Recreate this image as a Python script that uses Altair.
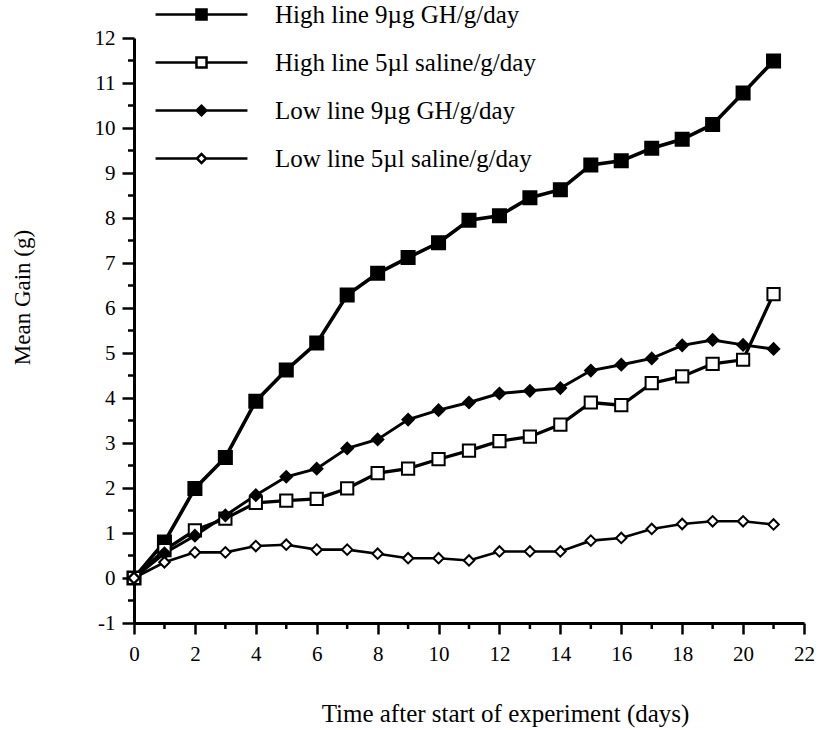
import altair as alt
import pandas as pd

# ---------------- data ----------------
days = list(range(22))
series_names = [
    "High line 9µg GH/g/day",
    "High line 5µl saline/g/day",
    "Low line 9µg GH/g/day",
    "Low line 5µl saline/g/day",
]
high_gh = [0, 0.80, 1.99, 2.68, 3.93, 4.62, 5.22, 6.29, 6.77, 7.12, 7.45, 7.95,
           8.05, 8.45, 8.63, 9.18, 9.27, 9.55, 9.75, 10.08, 10.78, 11.49]
high_saline = [0, 0.62, 1.06, 1.32, 1.67, 1.72, 1.76, 1.99, 2.33, 2.43, 2.64, 2.83,
               3.04, 3.14, 3.41, 3.90, 3.84, 4.33, 4.48, 4.76, 4.85, 6.31]
low_gh = [0, 0.55, 0.94, 1.39, 1.84, 2.25, 2.43, 2.88, 3.08, 3.52, 3.73, 3.90,
          4.10, 4.16, 4.22, 4.61, 4.74, 4.88, 5.17, 5.29, 5.18, 5.09]
low_saline = [0, 0.35, 0.57, 0.57, 0.71, 0.74, 0.63, 0.63, 0.54, 0.44, 0.44, 0.39,
              0.59, 0.59, 0.59, 0.83, 0.89, 1.09, 1.20, 1.26, 1.26, 1.19]

x_major_ticks = list(range(0, 23, 2))
x_minor_ticks = list(range(1, 22, 2))
y_major_ticks = list(range(-1, 13))
y_minor_ticks = [v + 0.5 for v in range(-1, 12)]

rows = []
for name, vals in zip(series_names, [high_gh, high_saline, low_gh, low_saline]):
    for d, v in zip(days, vals):
        rows.append({"day": d, "gain": v, "series": name})
df = pd.DataFrame(rows)

FONT = "Liberation Serif"
PLOT_W, PLOT_H = 670, 585

x_scale = alt.Scale(domain=[0, 22], nice=False, zero=False)
y_scale = alt.Scale(domain=[-1, 12], nice=False, zero=False)

common_axis = dict(
    grid=False, domainColor="black", tickColor="black", labelColor="black",
    titleColor="black", labelFont=FONT, titleFont=FONT, titleFontWeight="normal",
    labelFontWeight="normal", labelFlush=False, labelOverlap=False,
    tickWidth=2.5, domainWidth=3, tickCount=200,
)

x_axis = alt.Axis(
    orient="bottom", values=x_major_ticks, tickSize=11,
    labelExpr="'' + datum.value",
    labelFontSize=21, labelPadding=9,
    title="Time after start of experiment (days)", titleFontSize=25,
    titleX=371, titleY=90, titleAlign="center", titleBaseline="middle", titleAngle=0,
    **common_axis,
)
y_axis = alt.Axis(
    orient="left", values=y_major_ticks, tickSize=12,
    labelExpr="'' + datum.value",
    labelFontSize=21, labelPadding=7,
    title="Mean Gain (g)", titleFontSize=23, titleAngle=-90,
    titleX=-112, titleY=259, titleAlign="center", titleBaseline="middle",
    **common_axis,
)

# legend symbols drawn with strokes only (units: 1 = 12 px with symbolSize 576)
L = 3.83
def rings_square(rs):
    return "".join(f"M{-r},{-r}H{r}V{r}H{-r}Z" for r in rs)
def rings_diamond(rs):
    return "".join(f"M{-r},0L0,{-r}L{r},0L0,{r}Z" for r in rs)
sq_f = f"M{-L},0H{L}" + rings_square([0.42, 0.25, 0.08])
sq_o = f"M{-L},0H-0.42M0.42,0H{L}" + rings_square([0.42])
di_f = f"M{-L},0H{L}" + rings_diamond([0.4, 0.22, 0.06])
di_o = f"M{-L},0H-0.38M0.38,0H{L}" + rings_diamond([0.38])

legend = alt.Legend(
    orient="none", legendX=54, legendY=-37, title=None, padding=0,
    symbolSize=576, symbolStrokeWidth=2.5, symbolOpacity=1,
    labelFont=FONT, labelFontSize=25, labelColor="black", labelOffset=60,
    labelLimit=500, rowPadding=21,
)

lines = alt.Chart(df).mark_line().encode(
    x=alt.X("day:Q", scale=x_scale, axis=x_axis),
    y=alt.Y("gain:Q", scale=y_scale, axis=y_axis),
    color=alt.Color("series:N",
                    scale=alt.Scale(domain=series_names, range=["black"] * 4),
                    legend=None),
    strokeWidth=alt.StrokeWidth("series:N",
                                scale=alt.Scale(domain=series_names, range=[3.6, 2.6, 3.4, 2.6]),
                                legend=None),
)

points = alt.Chart(df).mark_point(filled=True, stroke="black", strokeWidth=2, opacity=1).encode(
    x=alt.X("day:Q", scale=x_scale),
    y=alt.Y("gain:Q", scale=y_scale),
    shape=alt.Shape("series:N", scale=alt.Scale(domain=series_names,
                    range=["square", "square", "diamond", "diamond"]), legend=None),
    fill=alt.Fill("series:N", scale=alt.Scale(domain=series_names,
                  range=["black", "white", "black", "white"]), legend=None),
    size=alt.Size("series:N", scale=alt.Scale(domain=series_names,
                  range=[170, 110, 140, 125]), legend=None),
)

# minor ticks (positions along the axes go through the chart scales)
minor_y = alt.Chart(pd.DataFrame({"v": y_minor_ticks})).mark_rule(
    color="black", strokeWidth=2.5
).encode(
    y=alt.Y("v:Q", scale=y_scale),
    x=alt.value(-6), x2=alt.value(0),
)
minor_x = alt.Chart(pd.DataFrame({"v": x_minor_ticks})).mark_rule(
    color="black", strokeWidth=2.5
).encode(
    x=alt.X("v:Q", scale=x_scale),
    y=alt.value(PLOT_H), y2=alt.value(PLOT_H + 6),
)

# legend-only layer (no marks drawn; entries come from the explicit domain)
legend_layer = alt.Chart(df).transform_filter("false").mark_point(
    filled=False, strokeWidth=2.5, opacity=1
).encode(
    shape=alt.Shape("series:N", scale=alt.Scale(domain=series_names,
                    range=[sq_f, sq_o, di_f, di_o]), legend=legend),
    color=alt.Color("series:N", scale=alt.Scale(domain=series_names,
                    range=["black"] * 4), legend=legend),
)

chart = (
    alt.layer(lines, points, minor_y, minor_x, legend_layer)
    .resolve_scale(shape="independent", fill="independent", size="independent",
                   color="independent")
    .properties(
        width=PLOT_W, height=PLOT_H,
        autosize=alt.AutoSizeParams(type="none"),
        padding={"left": 134, "top": 38, "right": 15, "bottom": 107},
        background="white",
    )
    .configure_view(stroke=None)
)

chart.save("out.html", embed_options={"renderer": "svg", "actions": False})
